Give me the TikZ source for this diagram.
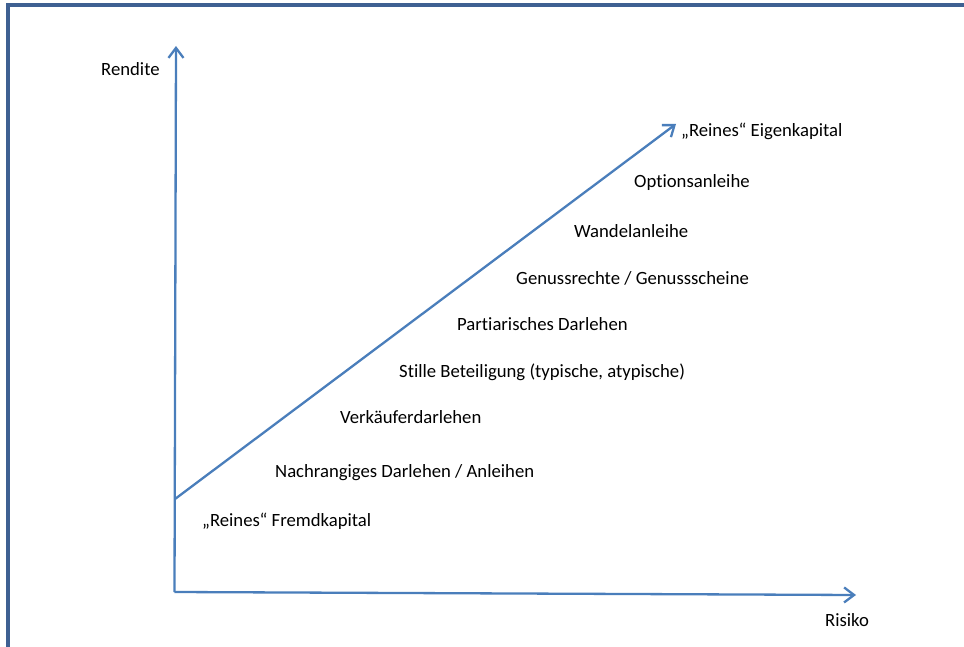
\documentclass[tikz,border=0pt]{standalone}
\usepackage{fontspec}
\setmainfont[Ligatures={NoCommon}]{Carlito}
\usetikzlibrary{arrows.meta}
\definecolor{framecol}{HTML}{3E6092}
\definecolor{axiscol}{HTML}{4A7EBB}
\begin{document}
\begin{tikzpicture}[x=1pt,y=-1pt,
  axis/.style={draw=axiscol,line width=2.3pt,-{Straight Barb[length=10pt,width=15pt,line width=2.3pt]}},
  lbl/.style={anchor=base west,inner sep=0pt,font=\fontsize{18.7}{21}\selectfont,text=black}]
\useasboundingbox (0,0) rectangle (964,647);
% outer frame (left and top edges)
\draw[framecol,line width=3.2pt] (8,650) -- (8,5) -- (967,5);
% axes
\coordinate (O) at (174.5,592);
\coordinate (ytip) at (176,46);
\coordinate (xtip) at (856,595);
\coordinate (dstart) at (175,499);
\coordinate (dtip) at (676,124);
\draw[axis] (O) -- (ytip);
\draw[axis] (O) -- (xtip);
\draw[axis] (dstart) -- (dtip);
% labels
\node[lbl] (rendite) at (101,76) {Rendite};
\node[lbl] (risiko) at (825,626) {Risiko};
\node[lbl] (ek) at (681,137) {„Reines“ Eigenkapital};
\node[lbl] (opt) at (634,188) {Optionsanleihe};
\node[lbl] (wandel) at (574,238) {Wandelanleihe};
\node[lbl] (genuss) at (516,284) {Genussrechte / Genussscheine};
\node[lbl] (partiar) at (457,330) {Partiarisches Darlehen};
\node[lbl] (stille) at (399,377) {Stille Beteiligung (typische, atypische)};
\node[lbl] (verk) at (340,423) {Verkäuferdarlehen};
\node[lbl] (nachr) at (275,477) {Nachrangiges Darlehen / Anleihen};
\node[lbl] (fk) at (202,526) {„Reines“ Fremdkapital};
\end{tikzpicture}
\end{document}
